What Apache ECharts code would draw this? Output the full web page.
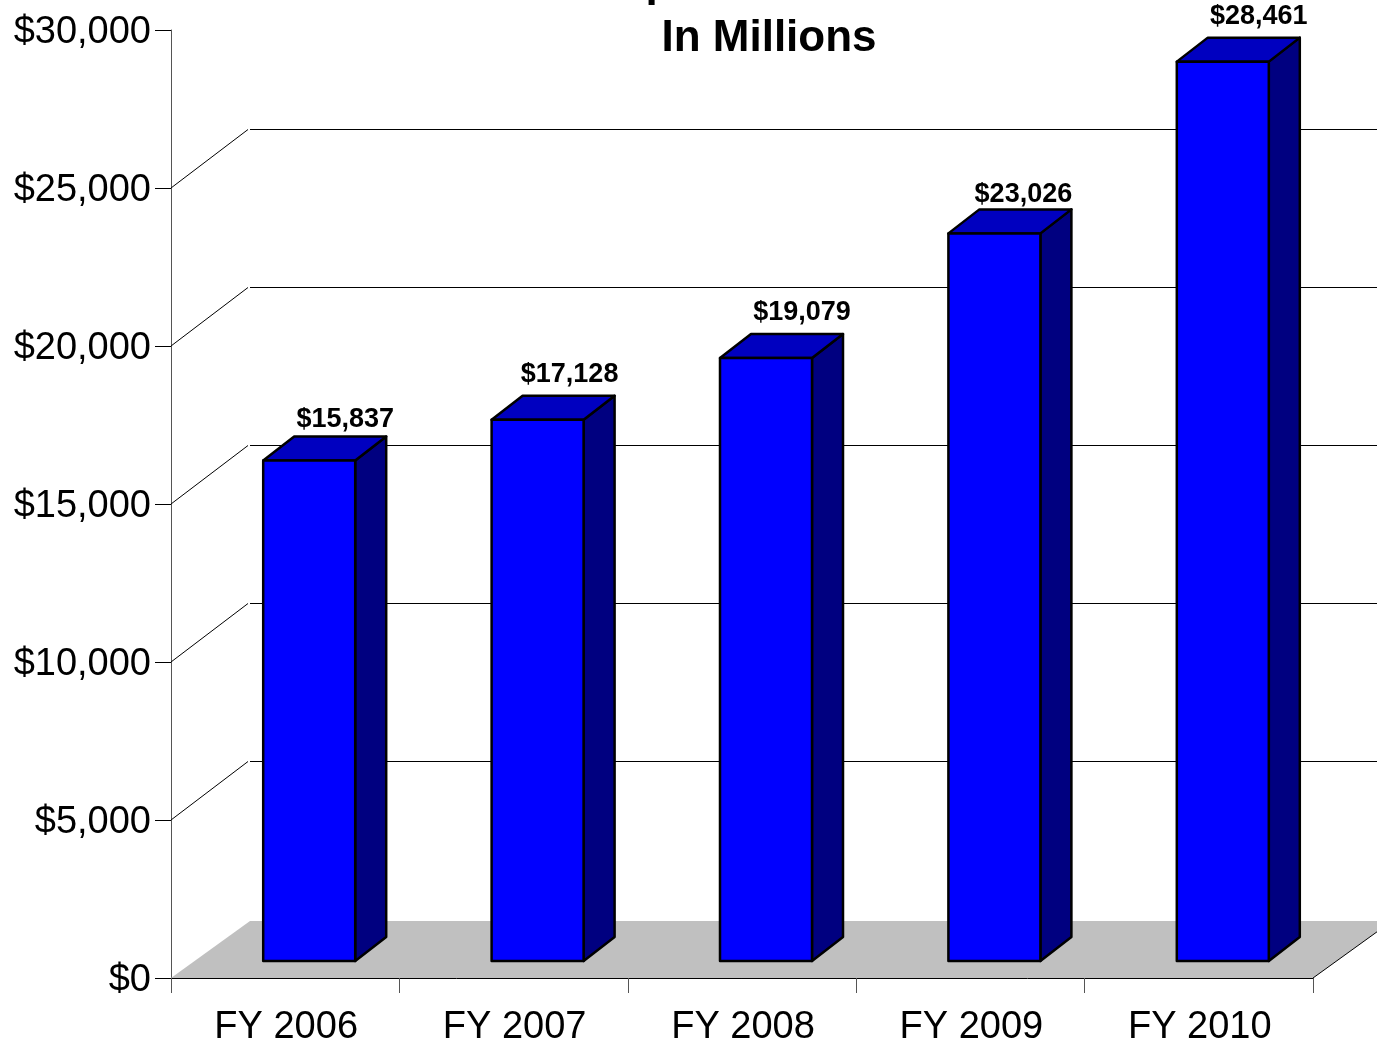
<!DOCTYPE html>
<html>
<head>
<meta charset="utf-8">
<style>html,body{margin:0;padding:0;background:#fff;overflow:hidden}#c{width:1377px;height:1044px}</style>
<script src="https://cdn.jsdelivr.net/npm/echarts@6/dist/echarts.min.js"></script>
</head>
<body>
<div id="c"></div>
<script>
const categories = ['FY 2006','FY 2007','FY 2008','FY 2009','FY 2010'];
const values = [15837,17128,19079,23026,28461];
const wallTicks = [5000,10000,15000,20000,25000];
const titleLines = ['Expended Funds','In Millions'];
const labelLift = [17,21,22,15,21];
const labelShift = [36,32,36,29,36];

const FONT = '"Liberation Sans", Arial, sans-serif';
const WALL_DX = 79, FLOOR_DY = -57, WALL_DY = -59;
const BAR_SHIFT_X = 24, BAR_SHIFT_Y = -17, BAR_W = 92, BAR_DX = 31, BAR_DY = -24;
const money = v => '$' + v.toLocaleString('en-US');

const chart = echarts.init(document.getElementById('c'), null, {renderer:'canvas'});
chart.setOption({
  animation:false,
  backgroundColor:'#fff',
  title:{
    text:titleLines.join('\n'),
    left:764, top:-48, textAlign:'center',
    textStyle:{fontFamily:FONT,fontSize:44,fontWeight:'bold',color:'#000',lineHeight:54.5}
  },
  grid:{left:171,right:64,top:30,bottom:66,containLabel:false,outerBoundsMode:'none'},
  xAxis:{
    type:'category',data:categories,boundaryGap:true,
    axisLine:{show:true,lineStyle:{color:'#000',width:1}},
    axisTick:{show:true,length:15,alignWithLabel:false,lineStyle:{color:'#555',width:1}},
    axisLabel:{fontFamily:FONT,fontSize:38,color:'#000',margin:31,interval:0,padding:[0,0,0,2]},
    splitLine:{show:false}
  },
  yAxis:{
    type:'value',min:0,max:30000,interval:5000,
    axisLine:{show:true,lineStyle:{color:'#555',width:1}},
    axisTick:{show:true,length:16,lineStyle:{color:'#000',width:1}},
    axisLabel:{fontFamily:FONT,fontSize:38,color:'#000',margin:20,verticalAlign:'top',lineHeight:6,formatter:v=>money(v)},
    splitLine:{show:false}
  },
  series:[
    { // floor
      type:'custom',coordinateSystem:'cartesian2d',silent:true,z:1,clip:false,
      data:[[0,0]],
      encode:{x:0,y:1},
      renderItem(params,api){
        const cs=params.coordSys;
        const y0=cs.y+cs.height, x0=cs.x, x1=cs.x+cs.width;
        return {type:'group',children:[
          {type:'polygon',shape:{points:[[x0,y0],[x0+WALL_DX,y0+FLOOR_DY],[x1+WALL_DX,y0+FLOOR_DY],[x1,y0]]},style:{fill:'#c0c0c0',stroke:null}},
          {type:'line',shape:{x1:x1,y1:y0,x2:x1+WALL_DX,y2:y0+FLOOR_DY},style:{stroke:'#000',lineWidth:1}}
        ]};
      }
    },
    { // wall gridlines
      type:'custom',coordinateSystem:'cartesian2d',silent:true,z:2,clip:false,
      data:wallTicks.map(v=>[0,v]),
      encode:{x:0,y:1},
      renderItem(params,api){
        const cs=params.coordSys;
        const y=api.coord([0,api.value(1)])[1], x0=cs.x, x1=cs.x+cs.width;
        const by=Math.round(y+WALL_DY)+0.5;
        return {type:'group',children:[
          {type:'line',shape:{x1:x0,y1:y,x2:x0+WALL_DX-2,y2:by},style:{stroke:'#000',lineWidth:1}},
          {type:'line',shape:{x1:x0+WALL_DX,y1:by,x2:x1+WALL_DX,y2:by},style:{stroke:'#000',lineWidth:1}}
        ]};
      }
    },
    { // 3D bars
      type:'custom',coordinateSystem:'cartesian2d',silent:true,z:3,clip:false,
      data:values.map((v,i)=>[i,v]),
      encode:{x:0,y:1},
      renderItem(params,api){
        const i=api.value(0), v=api.value(1);
        const top=api.coord([i,v]), base=api.coord([i,0]);
        const cx=top[0]+BAR_SHIFT_X, l=cx-BAR_W/2, r=cx+BAR_W/2;
        const t=top[1]+BAR_SHIFT_Y, b=base[1]+BAR_SHIFT_Y;
        const st={stroke:'#000',lineWidth:2.5,lineJoin:'round'};
        return {type:'group',children:[
          {type:'polygon',shape:{points:[[r,t],[r+BAR_DX,t+BAR_DY],[r+BAR_DX,b+BAR_DY],[r,b]]},style:{fill:'#000080',...st}},
          {type:'polygon',shape:{points:[[l,t],[l+BAR_DX,t+BAR_DY],[r+BAR_DX,t+BAR_DY],[r,t]]},style:{fill:'#0000c0',...st}},
          {type:'rect',shape:{x:l,y:t,width:BAR_W,height:b-t},style:{fill:'#0000ff',...st}},
          {type:'text',style:{text:money(v),x:cx+labelShift[i],y:t+BAR_DY-labelLift[i],align:'center',verticalAlign:'middle',
            font:'bold 27px '+FONT,fill:'#000'}}
        ]};
      }
    }
  ]
});
</script>
</body>
</html>
